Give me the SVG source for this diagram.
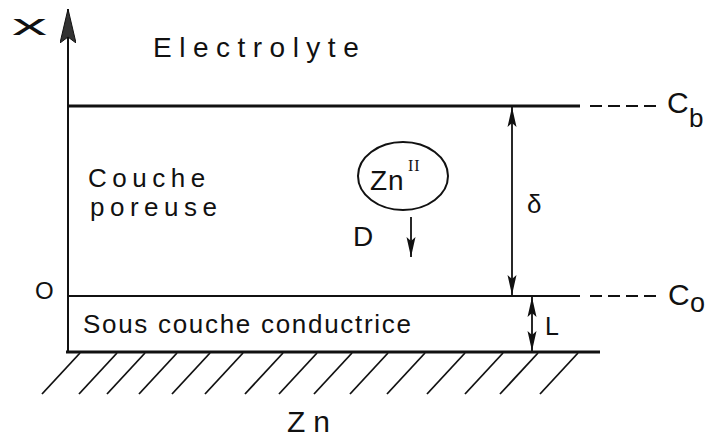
<svg xmlns="http://www.w3.org/2000/svg" width="712" height="439" viewBox="0 0 712 439">
<style>
  .t { font-family: "Liberation Sans", "DejaVu Sans", sans-serif; fill: #111; }
  .ln { stroke: #111; stroke-width: 2; fill: none; }
  .thick { stroke: #111; stroke-width: 3; fill: none; }
  .dash { stroke: #111; stroke-width: 2; fill: none; stroke-dasharray: 12 6; }
  .hatch { stroke: #111; stroke-width: 1.8; }
  .conn { stroke: #111; stroke-width: 1.8; fill: none; }
</style>
<defs>
  <marker id="ah" viewBox="0 0 20 10" refX="20" refY="5" markerWidth="20" markerHeight="10" markerUnits="userSpaceOnUse" orient="auto-start-reverse">
    <path d="M0,0.5 L20,5 L0,9.5 L4,5 Z" fill="#111"/>
  </marker>
  <marker id="axh" viewBox="0 0 34 16" refX="34" refY="8" markerWidth="34" markerHeight="16" markerUnits="userSpaceOnUse" orient="auto">
    <path d="M0,0 L34,8 L0,16 L6,8 Z" fill="#333" stroke="#111" stroke-width="1"/>
  </marker>
</defs>
<rect width="712" height="439" fill="#fff"/>

<g id="axis">
  <line class="ln" x1="68" y1="353" x2="68" y2="9" marker-end="url(#axh)"/>
  <text class="t" x="12" y="35" font-size="30" font-weight="300" textLength="35" lengthAdjust="spacingAndGlyphs">x</text>
</g>

<g id="electrolyte">
  <text class="t" x="153" y="57" font-size="28" letter-spacing="7.5">Electrolyte</text>
</g>

<g id="couche-poreuse">
  <line class="thick" x1="68" y1="106" x2="580" y2="106"/>
  <line class="dash" x1="590" y1="106" x2="657" y2="106"/>
  <text class="t" x="667" y="113" font-size="30">C</text>
  <text class="t" x="689" y="127" font-size="26">b</text>
  <text class="t" x="88" y="187" font-size="26" letter-spacing="5.5">Couche</text>
  <text class="t" x="90" y="216" font-size="26" letter-spacing="5.5">poreuse</text>
  <line class="ln" x1="68" y1="296" x2="580" y2="296"/>
  <line class="dash" x1="590" y1="296" x2="657" y2="296"/>
  <text class="t" x="668" y="305" font-size="30">C</text>
  <text class="t" x="690" y="312" font-size="27">o</text>
  <text class="t" x="35" y="299" font-size="24">O</text>
</g>

<g id="zn-ion">
  <ellipse class="ln" cx="403" cy="176" rx="45" ry="34"/>
  <text class="t" x="370" y="190" font-size="28" letter-spacing="1">Zn</text>
  <text x="408" y="171" font-size="16" font-family="Liberation Serif, serif" fill="#111" letter-spacing="1">II</text>
  <text class="t" x="353" y="246" font-size="28">D</text>
</g>

<g id="sous-couche">
  <text class="t" x="83" y="333" font-size="26" letter-spacing="1.7">Sous couche conductrice</text>
  <line class="thick" x1="66" y1="352" x2="600" y2="352"/>
</g>

<g id="zn-substrate">
  <g class="hatch">
    <line x1="80" y1="353" x2="42" y2="394"/>
    <line x1="117" y1="353" x2="79" y2="394"/>
    <line x1="145" y1="353" x2="107" y2="394"/>
    <line x1="177" y1="353" x2="139" y2="394"/>
    <line x1="210" y1="353" x2="172" y2="394"/>
    <line x1="243" y1="353" x2="205" y2="394"/>
    <line x1="283" y1="353" x2="245" y2="394"/>
    <line x1="317" y1="353" x2="279" y2="394"/>
    <line x1="352" y1="353" x2="314" y2="394"/>
    <line x1="388" y1="353" x2="350" y2="394"/>
    <line x1="425" y1="353" x2="387" y2="394"/>
    <line x1="465" y1="353" x2="427" y2="394"/>
    <line x1="503" y1="353" x2="465" y2="394"/>
    <line x1="538" y1="353" x2="500" y2="394"/>
    <line x1="578" y1="353" x2="540" y2="394"/>
  </g>
  <text class="t" x="287" y="432" font-size="30" letter-spacing="8">Zn</text>
</g>

<g id="connectors">
  <line class="conn" x1="512" y1="107" x2="512" y2="295" marker-start="url(#ah)" marker-end="url(#ah)"/>
  <text class="t" x="527" y="213" font-size="26">δ</text>
  <line class="conn" x1="532" y1="297" x2="532" y2="351" marker-start="url(#ah)" marker-end="url(#ah)"/>
  <text class="t" x="545" y="335" font-size="25">L</text>
  <line class="conn" x1="411" y1="217" x2="411" y2="257" marker-end="url(#ah)"/>
</g>
</svg>
